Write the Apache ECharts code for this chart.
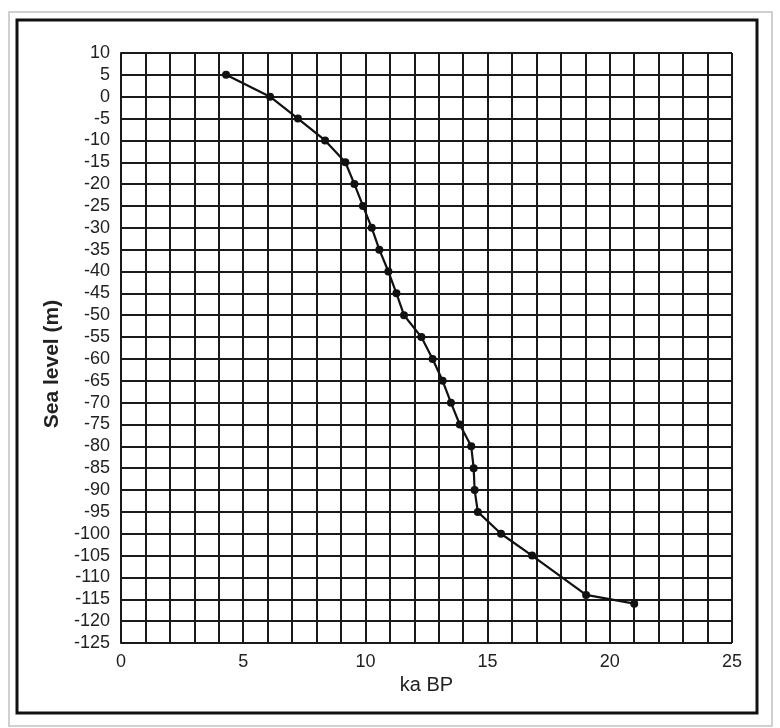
<!DOCTYPE html>
<html>
<head>
<meta charset="utf-8">
<script src="https://cdn.jsdelivr.net/npm/echarts@6/dist/echarts.min.js"></script>
<style>
html,body{margin:0;padding:0;background:#fff;}
#c{width:780px;height:728px;}
</style>
</head>
<body>
<div id="c"></div>
<script>
var ageKa = [4.3, 6.1, 7.24, 8.35, 9.18, 9.55, 9.9, 10.26, 10.57, 10.94, 11.27, 11.58, 12.29, 12.75, 13.16, 13.5, 13.86, 14.33, 14.43, 14.47, 14.6, 15.55, 16.82, 19.03, 21.0];
var seaLevel = [5, 0, -5, -10, -15, -20, -25, -30, -35, -40, -45, -50, -55, -60, -65, -70, -75, -80, -85, -90, -95, -100, -105, -114, -116];
var xTickLabels = ['0', '5', '10', '15', '20', '25'];
var yAxisTitle = 'Sea level (m)';
var xAxisTitle = 'ka BP';

var points = ageKa.map(function (x, i) { return [x, seaLevel[i]]; });
var chart = echarts.init(document.getElementById('c'), null, {renderer: 'canvas'});
var font = '"Liberation Sans", Arial, sans-serif';
chart.setOption({
  animation: false,
  backgroundColor: '#fff',
  grid: {left: 121, top: 53, width: 611, height: 590, containLabel: false},
  xAxis: {
    type: 'value', min: 0, max: 25, interval: 1,
    name: xAxisTitle, nameLocation: 'middle', nameGap: 27,
    nameTextStyle: {fontFamily: font, fontSize: 20, color: '#222'},
    axisLine: {show: true, lineStyle: {color: '#1a1a1a', width: 2}},
    axisTick: {show: false},
    axisLabel: {
      fontFamily: font, fontSize: 18, color: '#222', margin: 10,
      formatter: function (v) { var s = String(v); return xTickLabels.indexOf(s) >= 0 ? s : ''; }
    },
    splitLine: {show: true, lineStyle: {color: '#1a1a1a', width: 2}}
  },
  yAxis: {
    type: 'value', min: -125, max: 10, interval: 5,
    axisLine: {show: true, lineStyle: {color: '#1a1a1a', width: 2}},
    axisTick: {show: false},
    axisLabel: {fontFamily: font, fontSize: 18, color: '#222', margin: 11},
    splitLine: {show: true, lineStyle: {color: '#1a1a1a', width: 2}}
  },
  graphic: [
    {type: 'rect', shape: {x: 9, y: 12, width: 763, height: 714}, style: {fill: 'none', stroke: '#d0d0d0', lineWidth: 2}, z: -1},
    {type: 'rect', shape: {x: 17, y: 20, width: 740, height: 693}, style: {fill: 'none', stroke: '#111', lineWidth: 3}},
    {type: 'text', x: 52, y: 364, rotation: Math.PI / 2,
     style: {text: yAxisTitle, font: 'bold 21px "Liberation Sans", Arial, sans-serif', fill: '#222', textAlign: 'center', textVerticalAlign: 'middle'}}
  ],
  series: [{
    type: 'line', data: points,
    symbol: 'circle', symbolSize: 8,
    lineStyle: {color: '#111', width: 2.2},
    itemStyle: {color: '#111'}
  }]
});
</script>
</body>
</html>
